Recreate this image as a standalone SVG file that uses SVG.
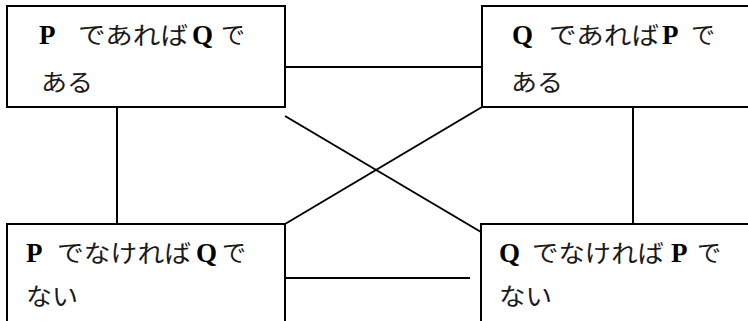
<svg xmlns="http://www.w3.org/2000/svg" width="748" height="321" viewBox="0 0 748 321">
<style>
.box{fill:#fff;stroke:#000;stroke-width:2}
.ln{stroke:#000;stroke-width:2;fill:none}
.j{font-family:"Noto Sans CJK JP","Noto Sans CJK SC",sans-serif;font-size:24px;fill:#1a1a1a}
.l{font-family:"Liberation Serif","DejaVu Serif",serif;font-size:27px;fill:#000;font-weight:bold}
</style>
<rect width="748" height="321" fill="#fff"/>
<g id="connectors">
<line class="ln" x1="285" y1="67" x2="482" y2="67"/>
<line class="ln" x1="117" y1="107" x2="117" y2="224"/>
<line class="ln" x1="633" y1="107" x2="633" y2="224"/>
<line class="ln" x1="285" y1="278" x2="470" y2="278"/>
<line class="ln" x1="285" y1="116" x2="481" y2="232"/>
<line class="ln" x1="285" y1="224" x2="482" y2="107"/>
</g>
<g id="node-pq">
<rect class="box" x="7" y="6" width="278" height="101"/>
<text class="l" x="39" y="44">P</text>
<text class="j" x="78" y="44" textLength="110" lengthAdjust="spacingAndGlyphs">であれば</text>
<text class="l" x="192" y="44">Q</text>
<text class="j" x="221" y="44">で</text>
<text class="j" x="41" y="91" textLength="52" lengthAdjust="spacingAndGlyphs">ある</text>
</g>
<g id="node-qp">
<rect class="box" x="482" y="6" width="300" height="101"/>
<text class="l" x="512" y="44">Q</text>
<text class="j" x="549" y="44" textLength="110" lengthAdjust="spacingAndGlyphs">であれば</text>
<text class="l" x="662" y="44">P</text>
<text class="j" x="691" y="44">で</text>
<text class="j" x="511" y="91" textLength="52" lengthAdjust="spacingAndGlyphs">ある</text>
</g>
<g id="node-notpq">
<rect class="box" x="7" y="224" width="278" height="120"/>
<text class="l" x="26" y="262">P</text>
<text class="j" x="57" y="262" textLength="134" lengthAdjust="spacingAndGlyphs">でなければ</text>
<text class="l" x="196" y="262">Q</text>
<text class="j" x="222" y="262">で</text>
<text class="j" x="26" y="305" textLength="52" lengthAdjust="spacingAndGlyphs">ない</text>
</g>
<g id="node-notqp">
<rect class="box" x="481" y="224" width="300" height="120"/>
<text class="l" x="499" y="262">Q</text>
<text class="j" x="532" y="262" textLength="132" lengthAdjust="spacingAndGlyphs">でなければ</text>
<text class="l" x="671" y="262">P</text>
<text class="j" x="697" y="262">で</text>
<text class="j" x="499" y="305" textLength="53" lengthAdjust="spacingAndGlyphs">ない</text>
</g>
</svg>
